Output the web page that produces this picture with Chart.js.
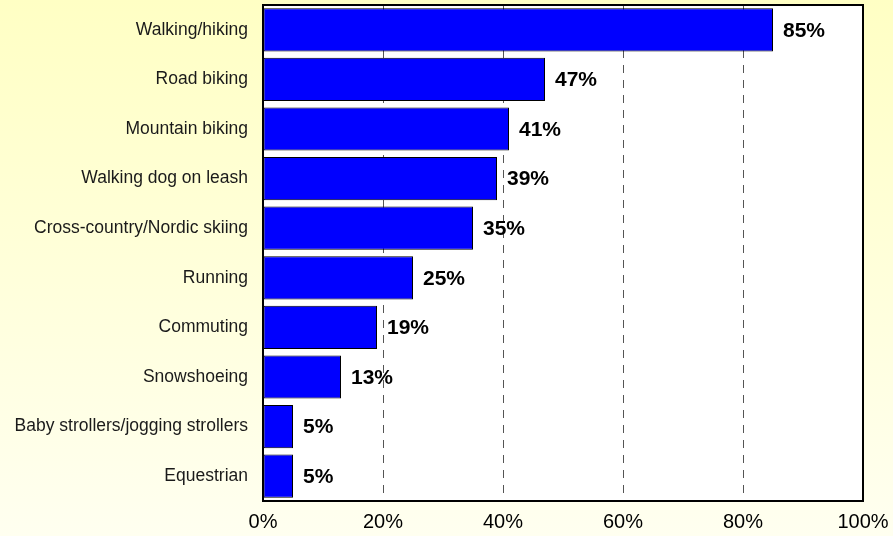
<!DOCTYPE html>
<html>
<head>
<meta charset="utf-8">
<script src="https://cdn.jsdelivr.net/npm/chart.js@4/dist/chart.umd.min.js"></script>
<style>
  html, body { margin: 0; padding: 0; }
  body {
    width: 893px; height: 536px; overflow: hidden;
    background: linear-gradient(to bottom, #ffffc4 0%, #fffff0 100%);
  }
  #wrap { position: relative; width: 893px; height: 536px; }
</style>
</head>
<body>
<div id="wrap"><canvas id="chart"></canvas></div>
<script>
// activities and share of respondents (%)
const activities = [
  'Walking/hiking',
  'Road biking',
  'Mountain biking',
  'Walking dog on leash',
  'Cross-country/Nordic skiing',
  'Running',
  'Commuting',
  'Snowshoeing',
  'Baby strollers/jogging strollers',
  'Equestrian'
];
const shares = [85, 47, 41, 39, 35, 25, 19, 13, 5, 5];
const xTicks = [0, 20, 40, 60, 80, 100];

const FONT = '"Liberation Sans", Arial, sans-serif';

// white plot area with a black frame
const plotFrame = {
  id: 'plotFrame',
  beforeDraw(chart) {
    const { ctx, chartArea: a } = chart;
    ctx.save();
    ctx.fillStyle = '#fff';
    ctx.fillRect(a.left, a.top, a.right - a.left, a.bottom - a.top);
    ctx.restore();
  },
  afterDraw(chart) {
    const { ctx, chartArea: a } = chart;
    ctx.save();
    ctx.strokeStyle = '#000';
    ctx.lineWidth = 2;
    ctx.strokeRect(a.left, a.top, a.right - a.left, a.bottom - a.top);
    ctx.restore();
  }
};

// value labels to the right of each bar
const valueLabels = {
  id: 'valueLabels',
  afterDatasetsDraw(chart) {
    const { ctx } = chart;
    const meta = chart.getDatasetMeta(0);
    ctx.save();
    ctx.font = 'bold 21px ' + FONT;
    ctx.fillStyle = '#000';
    ctx.textAlign = 'left';
    ctx.textBaseline = 'middle';
    meta.data.forEach((bar, i) => {
      ctx.fillText(shares[i] + '%', bar.x + 10, bar.y + 1);
    });
    ctx.restore();
  }
};

new Chart(document.getElementById('chart'), {
  type: 'bar',
  data: {
    labels: activities,
    datasets: [{
      data: shares,
      backgroundColor: '#0000ff',
      borderColor: '#000000',
      borderWidth: 1,
      borderSkipped: false,
      barPercentage: 0.87,
      categoryPercentage: 1
    }]
  },
  options: {
    indexAxis: 'y',
    responsive: true,
    maintainAspectRatio: false,
    animation: false,
    layout: { padding: { top: 5, right: 30, left: 0, bottom: 0 } },
    plugins: { legend: { display: false }, tooltip: { enabled: false } },
    scales: {
      x: {
        min: 0, max: 100,
        afterBuildTicks(scale) { scale.ticks = xTicks.map(v => ({ value: v })); },
        afterFit(scale) {
          scale.height = 35;
          scale.paddingLeft = 0;
          scale.paddingRight = 0;
        },
        grid: {
          drawTicks: false,
          color: ctx => (ctx.tick && ctx.tick.value > 0 && ctx.tick.value < 100) ? '#555' : 'rgba(0,0,0,0)',
          lineWidth: 1
        },
        border: { display: false, dash: [8, 7] },
        ticks: {
          padding: 9,
          color: '#000',
          font: { family: FONT, size: 20 },
          callback: v => v + '%'
        }
      },
      y: {
        afterFit(scale) {
          scale.width = 263;
          scale.paddingTop = 0;
          scale.paddingBottom = 0;
        },
        grid: { display: false, drawTicks: false },
        border: { display: false },
        ticks: {
          padding: 15,
          color: '#1a1a1a',
          font: { family: FONT, size: 17.5 }
        }
      }
    }
  },
  plugins: [plotFrame, valueLabels]
});
</script>
</body>
</html>
